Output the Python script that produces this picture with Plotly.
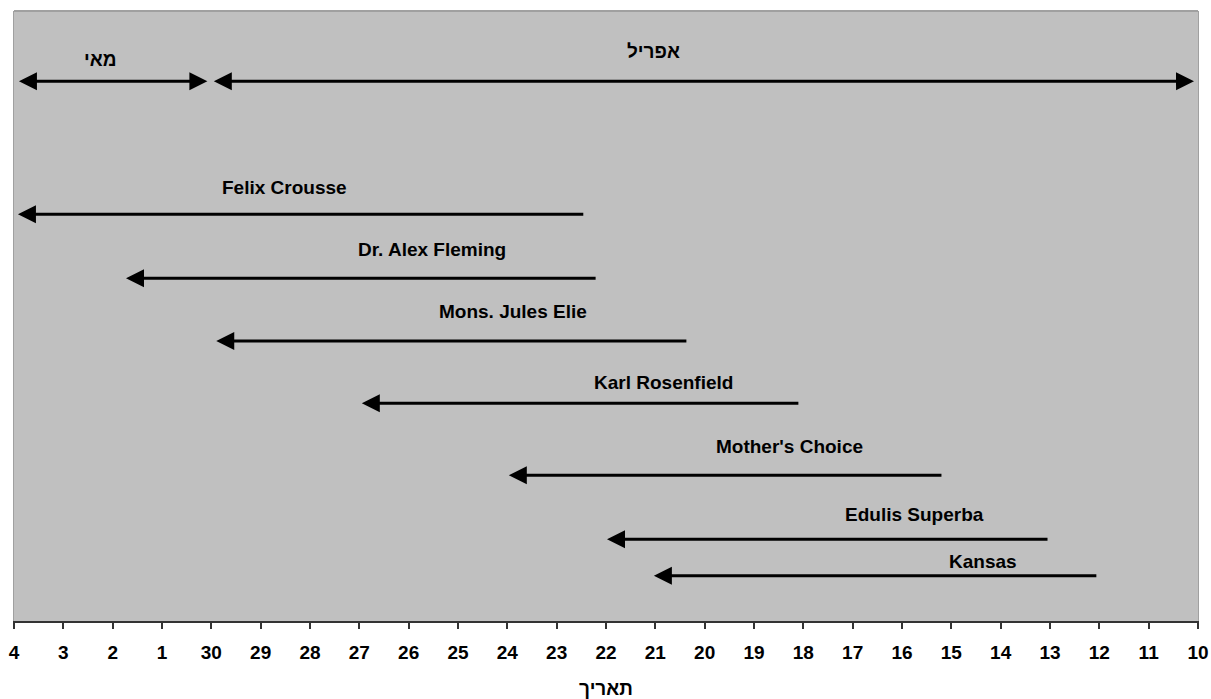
import plotly.graph_objects as go

# X scale: day number (April d -> d, May d -> 30 + d), drawn reversed
tick_days = [34, 33, 32, 31, 30, 29, 28, 27, 26, 25, 24, 23, 22, 21, 20, 19, 18, 17, 16, 15, 14, 13, 12, 11, 10]
tick_labels = ["4", "3", "2", "1", "30", "29", "28", "27", "26", "25", "24", "23", "22",
               "21", "20", "19", "18", "17", "16", "15", "14", "13", "12", "11", "10"]

# Varieties: bloom from start (April) to end (later date), arrow points to end
names = ["Felix Crousse", "Dr. Alex Fleming", "Mons. Jules Elie", "Karl Rosenfield",
         "Mother's Choice", "Edulis Superba", "Kansas"]
bloom_start = [22.43, 22.18, 20.34, 18.07, 15.17, 13.02, 12.03]
bloom_end = [33.92, 31.73, 29.9, 26.95, 23.97, 21.98, 21.03]
row_y = [6.67, 5.62, 4.59, 3.57, 2.39, 1.34, 0.74]
label_x = [28.51, 25.53, 23.89, 20.84, 18.29, 15.74, 14.36]
label_y = [7.10, 6.09, 5.08, 3.91, 2.86, 1.74, 0.97]

# Month spans
month_names = ["מאי", "אפריל"]
month_from = [30.05, 10.05]
month_to = [33.9, 29.95]
month_y = [8.85, 8.85]
month_label_x = [32.24, 21.03]
month_label_y = [9.21, 9.34]

axis_title = "תאריך"

FONT = "Liberation Sans, Arial, sans-serif"

fig = go.Figure()
fig.add_trace(go.Scatter(x=bloom_start, y=row_y, mode="markers",
                         marker=dict(opacity=0), hoverinfo="skip", showlegend=False))

annotations = []
for i in range(len(month_names)):
    annotations.append(dict(
        x=month_to[i], y=month_y[i], ax=month_from[i], ay=month_y[i],
        xref="x", yref="y", axref="x", ayref="y", text="", showarrow=True,
        arrowhead=2, startarrowhead=2, arrowside="end+start",
        arrowwidth=3, arrowsize=1.2, startarrowsize=1.2, arrowcolor="black"))
    annotations.append(dict(
        x=month_label_x[i], y=month_label_y[i], xref="x", yref="y",
        text=month_names[i], showarrow=False,
        font=dict(family=FONT, size=19, color="black", weight=700)))

for i in range(len(names)):
    annotations.append(dict(
        x=bloom_end[i], y=row_y[i], ax=bloom_start[i], ay=row_y[i],
        xref="x", yref="y", axref="x", ayref="y", text="", showarrow=True,
        arrowhead=2, arrowwidth=3, arrowsize=1.2, arrowcolor="black"))
    annotations.append(dict(
        x=label_x[i], y=label_y[i], xref="x", yref="y",
        text=names[i], showarrow=False,
        font=dict(family=FONT, size=19, color="black", weight=700)))

fig.update_layout(
    width=1211, height=699,
    margin=dict(l=14, r=13, t=11, b=78, autoexpand=False),
    paper_bgcolor="white", plot_bgcolor="#c0c0c0",
    showlegend=False,
    annotations=annotations,
    font=dict(family=FONT, color="black"),
    xaxis=dict(range=[34, 10], tickmode="array", tickvals=tick_days, ticktext=tick_labels,
               showgrid=False, zeroline=False, showline=True, linecolor="#333333", linewidth=2,
               ticks="outside", ticklen=6, tickwidth=1.5, tickcolor="#333333",
               ticklabelstandoff=7, ticklabeloverflow="allow",
               tickfont=dict(family=FONT, size=19, color="black", weight=700),
               title=dict(text=axis_title, standoff=20,
                          font=dict(family=FONT, size=19, color="black", weight=700))),
    xaxis2=dict(overlaying="x", anchor="y", side="bottom", range=[34, 10],
                tickmode="array", tickvals=tick_days, ticktext=["" for _ in tick_days],
                showgrid=False, zeroline=False, showline=False,
                ticks="inside", ticklen=5, tickwidth=1.5, tickcolor="#333333"),
    yaxis=dict(range=[0, 10], showgrid=False, zeroline=False, showticklabels=False,
               ticks="", showline=True, linecolor="#a0a0a0", linewidth=1, mirror=True),
    shapes=[dict(type="line", xref="paper", yref="paper", x0=0, x1=1, y0=1, y1=1,
                 line=dict(color="#a0a0a0", width=2))],
)

fig.write_html("out.html", config={"displayModeBar": False},
               post_script="document.body.style.margin='0';document.body.style.overflow='hidden';")
